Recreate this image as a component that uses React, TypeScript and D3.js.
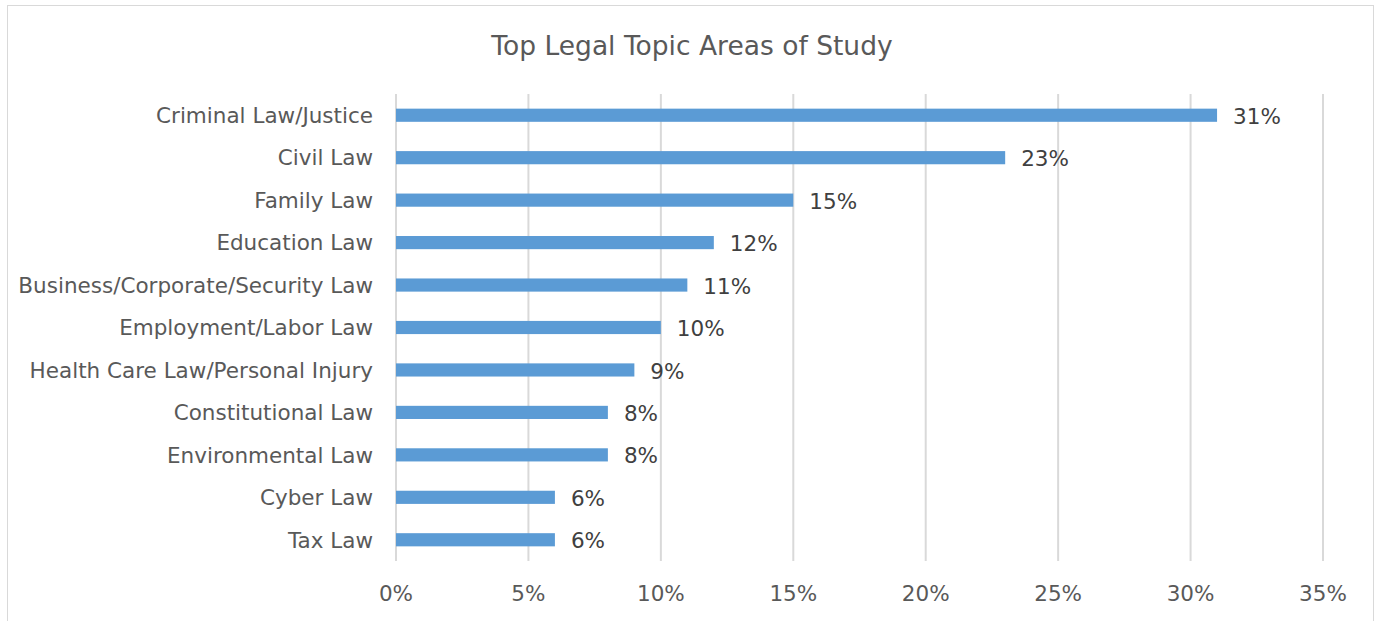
import React, { useEffect, useRef } from 'react';
import * as d3 from 'd3';

const categories = [
  'Criminal Law/Justice',
  'Civil Law',
  'Family Law',
  'Education Law',
  'Business/Corporate/Security Law',
  'Employment/Labor Law',
  'Health Care Law/Personal Injury',
  'Constitutional Law',
  'Environmental Law',
  'Cyber Law',
  'Tax Law',
];
const shares = [31, 23, 15, 12, 11, 10, 9, 8, 8, 6, 6];
const ticks = [0, 5, 10, 15, 20, 25, 30, 35];

const W = 1380;
const H = 621;
const font = "'DejaVu Sans', Verdana, sans-serif";

function App() {
  const svgRef = useRef<SVGSVGElement>(null);

  useEffect(() => {
    const svg = d3.select(svgRef.current);
    svg.selectAll('*').remove();

    const x = d3.scaleLinear().domain([0, 35]).range([396, 1323]);
    const y = d3.scaleBand().domain(categories).range([94, 561]).paddingInner(0.69).paddingOuter(0.345);

    svg.append('rect')
      .attr('x', 7.5).attr('y', 5.5)
      .attr('width', 1366).attr('height', 620)
      .attr('fill', '#fff').attr('stroke', '#d9d9d9');

    svg.append('text')
      .attr('x', 692).attr('y', 55)
      .attr('text-anchor', 'middle')
      .attr('font-family', font).attr('font-size', 26.5)
      .attr('fill', '#595959')
      .text('Top Legal Topic Areas of Study');

    svg.append('g')
      .selectAll('line')
      .data(ticks)
      .enter()
      .append('line')
      .attr('x1', d => x(d)).attr('x2', d => x(d))
      .attr('y1', 94).attr('y2', 561)
      .attr('stroke', '#d9d9d9').attr('stroke-width', 2);

    svg.append('g')
      .selectAll('text')
      .data(ticks)
      .enter()
      .append('text')
      .attr('x', d => x(d)).attr('y', 601)
      .attr('text-anchor', 'middle')
      .attr('font-family', font).attr('font-size', 21.5)
      .attr('fill', '#595959')
      .text(d => d + '%');

    svg.append('g')
      .selectAll('rect')
      .data(shares)
      .enter()
      .append('rect')
      .attr('x', x(0))
      .attr('y', (d, i) => y(categories[i])!)
      .attr('width', d => x(d) - x(0))
      .attr('height', y.bandwidth())
      .attr('fill', '#5b9bd5');

    svg.append('g')
      .selectAll('text')
      .data(categories)
      .enter()
      .append('text')
      .attr('x', 373)
      .attr('y', d => y(d)! + y.bandwidth() / 2)
      .attr('dy', '0.36em')
      .attr('text-anchor', 'end')
      .attr('font-family', font).attr('font-size', 21.5)
      .attr('fill', '#595959')
      .text(d => d);

    svg.append('g')
      .selectAll('text')
      .data(shares)
      .enter()
      .append('text')
      .attr('x', d => x(d) + 16)
      .attr('y', (d, i) => y(categories[i])! + y.bandwidth() / 2)
      .attr('dy', '0.4em')
      .attr('font-family', font).attr('font-size', 21.5)
      .attr('fill', '#404040')
      .text(d => d + '%');
  }, []);

  return (
    <svg ref={svgRef} width={W} height={H} style={{ position: 'absolute', left: 0, top: 0 }}></svg>
  );
}

export default App;
